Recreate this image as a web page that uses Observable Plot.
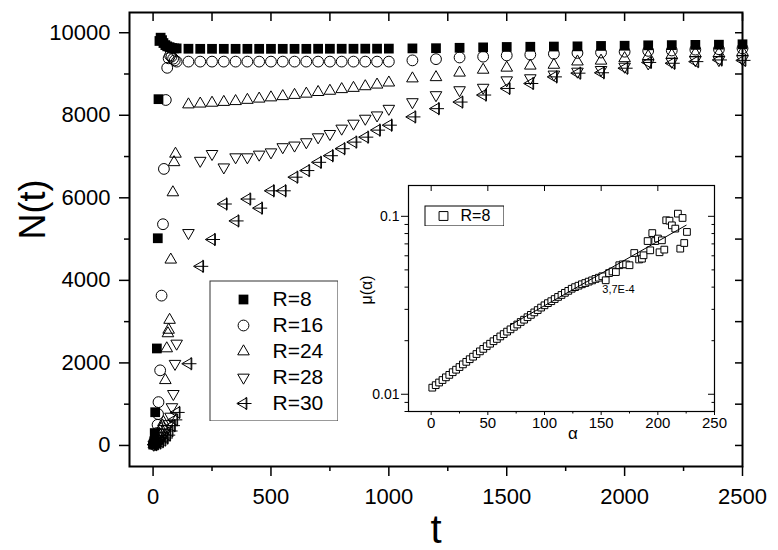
<!DOCTYPE html>
<html><head><meta charset="utf-8">
<script src="https://cdn.jsdelivr.net/npm/d3@7"></script>
<script src="https://cdn.jsdelivr.net/npm/@observablehq/plot@0.6"></script>
<style>
body{margin:0;background:#fff;}
#chart{position:relative;width:778px;height:550px;overflow:hidden;background:#fff;}
#chart svg{position:absolute;}
</style></head><body><div id="chart"></div>
<script>
// ---------- DATA ----------
const seriesNames = ["R=8", "R=16", "R=24", "R=28", "R=30"];

const tMid19 = [100,150,200,250,300,350,400,450,500,550,600,650,700,750,800,850,900,950,1000];
const tMid18 = [150,200,250,300,350,400,450,500,550,600,650,700,750,800,850,900,950,1000];
const tLate  = [1100,1200,1300,1400,1500,1600,1700,1800,1900,2000,2100,2200,2300,2400,2500];

const tEarly_R8  = [1,3,5,7,9,16,20,23,27,32,38,44,52,60,70,80,90];
const NEarly_R8  = [20,50,100,300,805,2350,5020,8390,9800,9880,9820,9750,9700,9670,9650,9630,9620];
const NMid_R8    = [9620,9612,9610,9610,9610,9610,9610,9610,9610,9610,9610,9610,9612,9612,9612,9612,9614,9614,9615];
const NLate_R8   = [9620,9625,9635,9645,9655,9660,9665,9670,9680,9685,9695,9700,9705,9710,9720];

const tEarly_R16 = [3,8,12,16,19,21,23,30,36,42,46,54,60,66,72,78,85,92];
const NEarly_R16 = [20,60,150,300,500,760,1050,1820,3630,5360,6700,8370,9150,9380,9450,9420,9370,9330];
const NMid_R16   = [9300,9300,9300,9300,9300,9300,9300,9300,9300,9300,9300,9300,9300,9300,9300,9300,9300,9300,9300];
const NLate_R16  = [9330,9360,9400,9420,9450,9470,9490,9510,9520,9540,9560,9570,9590,9600,9620];

const tEarly_R24 = [3,8,14,20,27,34,40,44,52,58,63,66,70,75,84,89,95];
const NEarly_R24 = [20,50,100,180,280,400,480,560,1580,2350,2715,2800,3040,4500,6130,6860,7065];
const NMid_R24   = [8260,8280,8300,8320,8340,8370,8400,8430,8460,8490,8520,8560,8590,8630,8660,8700,8740,8790];
const NLate_R24  = [8890,8920,9030,9100,9150,9200,9220,9300,9320,9380,9430,9460,9500,9500,9530];

const tEarly_R28 = [3,10,18,26,34,42,50,58,66,74,80,86,93,100];
const NEarly_R28 = [20,40,70,110,160,220,300,400,520,700,930,1250,1980,2470];
const NMid_R28   = [5150,6900,7065,6740,6985,6985,7050,7105,7230,7270,7350,7470,7550,7680,7800,7920,8000,8160];
const NLate_R28  = [8320,8490,8610,8670,8850,8900,8990,9060,9100,9180,9260,9300,9340,9340,9360];

const tEarly_R30 = [3,10,20,30,40,50,60,70,80,90,100];
const NEarly_R30 = [20,40,60,90,130,180,250,350,480,620,800];
const NMid_R30   = [1980,4340,4990,5850,5440,5970,5750,6170,6170,6500,6660,6860,7020,7190,7350,7470,7640,7760];
const NLate_R30  = [7960,8160,8320,8490,8650,8770,8930,9020,9030,9140,9280,9260,9300,9340,9330];

const xMajorTicks = [0,500,1000,1500,2000,2500];
const xMinorTicks = [250,750,1250,1750,2250];
const xTopTicks   = [0,250,500,750,1000,1250,1500,1750,2000,2250,2500];
const yMajorTicks = [0,2000,4000,6000,8000,10000];
const yMinorTicks = [1000,3000,5000,7000,9000];
const yRightTicks = [0,1000,2000,3000,4000,5000,6000,7000,8000,9000,10000];
const xLabel = "t";
const yLabel = "N(t)";

// inset
const insetSeriesName = "R=8";
const insetAlpha = [1,4,7,10,13,16,19,22,25,28,31,34,37,40,43,46,49,52,55,58,61,64,67,70,73,76,79,82,85,88,91,94,97,100,103,106,109,112,115,118,121,124,127,130,133,136,139,142,145,148,151,154,157,160,163,166,169,172,175,
  179.2,183.5,186,187.4,191,193.3,195.1,197.7,200.1,201.5,203.6,205.7,207.4,210.3,212.4,215.4,217.7,219.8,221.8,223.3,225.7];
const insetMu = [0.01089,0.01125,0.01164,0.01202,0.01245,0.01285,0.01330,0.01374,0.01422,0.01472,0.01521,0.01574,0.01626,0.01683,0.01742,0.01799,0.01862,0.01923,0.01986,0.02046,0.02113,0.02178,0.02249,0.02317,0.02393,0.02466,0.02547,0.02624,0.02710,0.02793,0.02884,0.02972,0.03069,0.03162,0.03251,0.03334,0.03428,0.03524,0.03614,0.03715,0.03811,0.03917,0.03999,0.04074,0.04150,0.04217,0.04295,0.04365,0.04446,0.04519,0.04603,0.04370,0.04797,0.04898,0.04860,0.05310,0.05370,0.05370,0.05310,
  0.0622,0.0572,0.0578,0.0604,0.0726,0.0644,0.0805,0.0726,0.0750,0.0628,0.0733,0.0650,0.0950,0.0945,0.0890,0.0853,0.1035,0.0658,0.0979,0.0708,0.0817];
const fitAlpha = [70, 225];
const fitMu = [0.0245, 0.0891];
const fitLabel = "3,7E-4";
const fitLabelAlpha = 151;
const fitLabelMu = 0.0389;
const insetXTicks = [0,50,100,150,200,250];
const insetXMinor = [25,75,125,175,225];
const insetYMajor = [0.01,0.1];
const insetYMinor = [0.008,0.009,0.02,0.03,0.04,0.05,0.06,0.07,0.08,0.09];
const insetXLabel = "α";
const insetYLabel = "μ(α)";
const insetXLabelAt = 125;

// ---------- SYMBOLS ----------
const S3 = Math.sqrt(3);
function triPts(size){ const y = Math.sqrt(size/(S3*3)); return {y, p:[[0,-2*y],[-S3*y,y],[S3*y,y]]}; }
function drawPoly(ctx,p){ ctx.moveTo(p[0][0],p[0][1]); ctx.lineTo(p[1][0],p[1][1]); ctx.lineTo(p[2][0],p[2][1]); ctx.closePath(); }
const symUp = {draw(ctx,size){ drawPoly(ctx, triPts(size).p); }};
const symDown = {draw(ctx,size){ drawPoly(ctx, triPts(size).p.map(([a,b])=>[a,-b])); }};
const symLeftPlus = {draw(ctx,size){
  const {y,p} = triPts(size);
  drawPoly(ctx, p.map(([a,b])=>[b,a]));
  const cx = 0.8*y;
  ctx.moveTo(-1.7*y,0); ctx.lineTo(cx+1.6*y,0);
  ctx.moveTo(cx,-1.95*y); ctx.lineTo(cx,1.95*y);
}};

const FONT = '"Liberation Sans", Arial, Helvetica, sans-serif';
const series = [
  {name:"R=8",  t:[...tEarly_R8, ...tMid19, ...tLate],  N:[...NEarly_R8, ...NMid_R8, ...NLate_R8],  symbol:"square", r:5.5, fill:"black", stroke:"none"},
  {name:"R=16", t:[...tEarly_R16, ...tMid19, ...tLate], N:[...NEarly_R16, ...NMid_R16, ...NLate_R16], symbol:"circle", r:5.4, fill:"none", stroke:"black"},
  {name:"R=24", t:[...tEarly_R24, ...tMid18, ...tLate], N:[...NEarly_R24, ...NMid_R24, ...NLate_R24], symbol:symUp, r:4.3, fill:"none", stroke:"black"},
  {name:"R=28", t:[...tEarly_R28, ...tMid18, ...tLate], N:[...NEarly_R28, ...NMid_R28, ...NLate_R28], symbol:symDown, r:4.3, fill:"none", stroke:"black"},
  {name:"R=30", t:[...tEarly_R30, ...tMid18, ...tLate], N:[...NEarly_R30, ...NMid_R30, ...NLate_R30], symbol:symLeftPlus, r:4.3, fill:"none", stroke:"black"}
];

// ---------- MAIN PLOT ----------
const mainMarks = [
  Plot.axisX({anchor:"bottom", ticks:xMajorTicks, tickSize:10, tickPadding:12, fontSize:22, tickFormat:d=>String(d), label:null, color:"black", strokeWidth:1.5}),
  Plot.axisX({anchor:"bottom", ticks:xMinorTicks, tickSize:5, fill:"none", label:null, stroke:"black", strokeWidth:1.5}),
  Plot.axisX({anchor:"top", ticks:xTopTicks, tickSize:-8, fill:"none", label:null, stroke:"black", strokeWidth:1.5}),
  Plot.axisY({anchor:"left", ticks:yMajorTicks, tickSize:10, tickPadding:9, fontSize:22, tickFormat:d=>String(d), label:null, color:"black", strokeWidth:1.5}),
  Plot.axisY({anchor:"left", ticks:yMinorTicks, tickSize:5, fill:"none", label:null, stroke:"black", strokeWidth:1.5}),
  Plot.axisY({anchor:"right", ticks:yRightTicks, tickSize:-8, fill:"none", label:null, stroke:"black", strokeWidth:1.5}),
  Plot.frame({stroke:"black", strokeWidth:2})
];
for (const s of series) {
  const data = s.t.map((t,i)=>({t, N:s.N[i]}));
  mainMarks.push(Plot.dot(data, {x:"t", y:"N", symbol:s.symbol, r:s.r, fill:s.fill, stroke:s.stroke, strokeWidth:1}));
}
mainMarks.push(Plot.text([yLabel], {frameAnchor:"left", dx:-96, rotate:-90, fontSize:36, text:d=>d, fill:"black"}));
mainMarks.push(Plot.text([xLabel], {frameAnchor:"bottom", dy:76, fontSize:40, text:d=>d, fill:"black"}));

const main = Plot.plot({
  width:778, height:550, marginLeft:129, marginRight:36, marginTop:12, marginBottom:84,
  style:{fontFamily:FONT, background:"transparent", color:"black"},
  x:{domain:[-100,2500]}, y:{domain:[-510,10490]},
  marks: mainMarks
});

// ---------- MAIN LEGEND ----------
const legMarks = [Plot.frame({stroke:"#333", strokeWidth:1, inset:0.5})];
for (const s of series) {
  legMarks.push(Plot.dot([s.name], {frameAnchor:"left", dx:34, y:d=>d, symbol:s.symbol, r:s.r, fill:s.fill, stroke:s.stroke, strokeWidth:1}));
}
legMarks.push(Plot.text(seriesNames, {frameAnchor:"left", dx:63, y:d=>d, text:d=>d, textAnchor:"start", fontSize:21, fill:"black"}));
const legend = Plot.plot({
  width:129, height:141, margin:0,
  style:{fontFamily:FONT, background:"white", color:"black"},
  y:{type:"point", domain:seriesNames, padding:0.69, axis:null},
  marks: legMarks
});

// ---------- INSET ----------
const insetData = insetAlpha.map((a,i)=>({a, m:insetMu[i]}));
const fitData = fitAlpha.map((a,i)=>({a, m:fitMu[i]}));
const inset = Plot.plot({
  width:375, height:275, marginLeft:53, marginRight:16, marginTop:10, marginBottom:39,
  style:{fontFamily:FONT, background:"transparent", color:"black"},
  x:{domain:[-20,250]}, y:{type:"log", domain:[0.008,0.149]},
  marks:[
    Plot.axisX({anchor:"bottom", ticks:insetXTicks, tickSize:4, tickPadding:2, fontSize:15, tickFormat:d=>String(d), label:null, color:"black"}),
    Plot.axisX({anchor:"bottom", ticks:insetXMinor, tickSize:2.5, fill:"none", label:null, stroke:"black"}),
    Plot.axisX({anchor:"top", ticks:insetXTicks, tickSize:-5, fill:"none", label:null, stroke:"black"}),
    Plot.axisY({anchor:"left", ticks:insetYMajor, tickSize:7, tickPadding:2, fontSize:14, tickFormat:d=>String(d), label:null, color:"black"}),
    Plot.axisY({anchor:"left", ticks:insetYMinor, tickSize:3.5, fill:"none", label:null, stroke:"black"}),
    Plot.axisY({anchor:"right", ticks:insetYMajor, tickSize:-7, fill:"none", label:null, stroke:"black"}),
    Plot.axisY({anchor:"right", ticks:insetYMinor, tickSize:-3.5, fill:"none", label:null, stroke:"black"}),
    Plot.frame({stroke:"black", strokeWidth:1.2}),
    Plot.dot(insetData, {x:"a", y:"m", symbol:"square", r:3.8, fill:"white", stroke:"black", strokeWidth:1}),
    Plot.line(fitData, {x:"a", y:"m", stroke:"black", strokeWidth:1}),
    Plot.text([fitLabel], {x:fitLabelAlpha, y:fitLabelMu, text:d=>d, textAnchor:"start", fontSize:11, fill:"black"}),
    Plot.text([insetXLabel], {x:insetXLabelAt, frameAnchor:"bottom", dy:27, text:d=>d, fontSize:17, fill:"black"}),
    Plot.text([insetYLabel], {frameAnchor:"left", dx:-42, dy:6, rotate:-90, text:d=>d, fontSize:16, fill:"black"})
  ]
});

const insetLegend = Plot.plot({
  width:80, height:21, margin:0,
  style:{fontFamily:FONT, background:"white", color:"black"},
  marks:[
    Plot.frame({stroke:"black", strokeWidth:1, inset:0.5}),
    Plot.dot([insetSeriesName], {frameAnchor:"left", dx:19, symbol:"square", r:5, fill:"white", stroke:"black", strokeWidth:1}),
    Plot.text([insetSeriesName], {frameAnchor:"left", dx:36, text:d=>d, textAnchor:"start", fontSize:16, fill:"black"})
  ]
});

const root = document.getElementById("chart");
function place(el, left, top){ el.style.left = left + "px"; el.style.top = top + "px"; el.style.position = "absolute"; el.style.maxWidth = "none"; root.appendChild(el); }
place(main, 0, 0);
place(legend, 209, 280);
place(inset, 355, 175);
place(insetLegend, 424, 205);
</script>
</body></html>
